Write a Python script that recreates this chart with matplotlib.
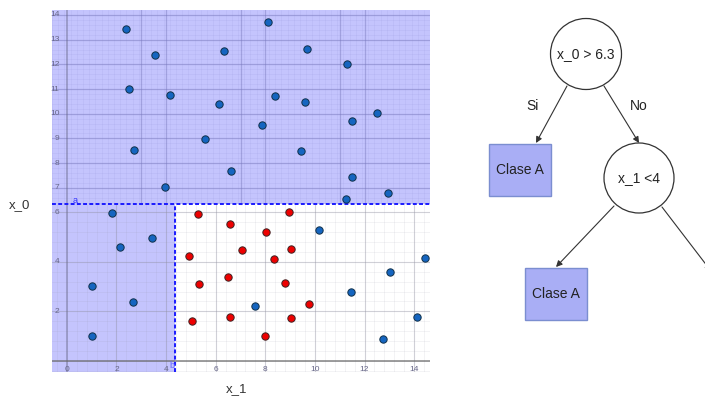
import numpy as np
import matplotlib
matplotlib.use('Agg')
from matplotlib import pyplot as plt
from matplotlib.patches import Circle, Rectangle, FancyArrowPatch

# data (x_1 horizontal, x_0 vertical)
blue_x1 = [2.40, 3.57, 6.33, 8.12, 9.68, 11.31, 2.50, 4.16, 6.13, 8.38, 9.60, 12.52,
           11.48, 7.87, 5.56, 2.72, 9.45, 6.63, 3.96, 11.50, 12.95, 11.25,
           1.82, 2.14, 3.44, 1.00, 2.65, 1.00, 7.57, 10.17, 14.45, 13.04, 11.47, 14.10, 12.73]
blue_x0 = [13.42, 12.39, 12.55, 13.71, 12.61, 12.01, 11.01, 10.74, 10.38, 10.72, 10.49, 10.04,
           9.70, 9.54, 8.98, 8.53, 8.48, 7.68, 7.04, 7.44, 6.80, 6.55,
           5.99, 4.62, 4.95, 3.01, 2.38, 1.01, 2.21, 5.28, 4.16, 3.59, 2.79, 1.76, 0.87]
red_x1 = [5.30, 8.97, 6.59, 8.03, 7.05, 9.04, 4.92, 8.35, 6.51, 5.33, 8.79, 9.77,
          5.03, 6.58, 9.02, 7.98]
red_x0 = [5.94, 6.02, 5.55, 5.20, 4.48, 4.52, 4.25, 4.13, 3.40, 3.11, 3.13, 2.31,
          1.62, 1.78, 1.74, 1.01]

split_x0 = 6.33
split_x1 = 4.35
xticks = [0, 2, 4, 6, 8, 10, 12, 14]
yticks_low = [2, 4, 6]
yticks_high = [7, 8, 9, 10, 11, 12, 13, 14]

plt.rcParams['font.family'] = ['Liberation Sans', 'DejaVu Sans']

shade = '#c4c4fd'
tick_col = '#666688'

fig = plt.figure(figsize=(7.05, 3.97), dpi=100)
ax = fig.add_axes([52/705, 25/397, 378/705, 362/397])
x_lo, x_hi = -0.6, 14.64
y_lo, y_hi = -0.46, 14.2
ax.set_xlim(x_lo, x_hi)
ax.set_ylim(y_lo, y_hi)

# shaded regions
ax.add_patch(Rectangle((x_lo, split_x0), x_hi - x_lo, y_hi - split_x0, fc=shade, ec='none', zorder=0))
ax.add_patch(Rectangle((x_lo, y_lo), split_x1 - x_lo, split_x0 - y_lo, fc=shade, ec='none', zorder=0))

# grid, lower part (major 2, minor 0.4)
for v in np.arange(-0.4, x_hi, 0.4):
    ax.plot([v, v], [y_lo, split_x0], color='#9090a0', lw=0.4, alpha=0.18, zorder=1)
for v in np.arange(-0.4, split_x0, 0.4):
    ax.plot([x_lo, x_hi], [v, v], color='#9090a0', lw=0.4, alpha=0.18, zorder=1)
for v in xticks[1:]:
    ax.plot([v, v], [y_lo, split_x0], color='#9090a0', lw=0.8, alpha=0.35, zorder=1)
for v in [2, 4, 6]:
    ax.plot([x_lo, x_hi], [v, v], color='#9090a0', lw=0.8, alpha=0.35, zorder=1)

# grid, upper part (pasted picture with its own spacing)
for v in np.arange(6.4, y_hi, 0.2):
    ax.plot([x_lo, x_hi], [v, v], color='#8888cc', lw=0.4, alpha=0.18, zorder=1)
for v in np.arange(-0.6, x_hi, 0.25):
    ax.plot([v, v], [split_x0, y_hi], color='#8888cc', lw=0.4, alpha=0.18, zorder=1)
for v in yticks_high:
    ax.plot([x_lo, x_hi], [v, v], color='#7777bb', lw=0.9, alpha=0.45, zorder=1)
for v in list(np.arange(3, 15, 4)) + list(np.arange(4, 15, 4)):
    ax.plot([v, v], [split_x0, y_hi], color='#7777bb', lw=0.9, alpha=0.45, zorder=1)

# axes lines
ax.plot([0, 0], [y_lo, y_hi], color='#666688', lw=1.2, alpha=0.5, zorder=2)
ax.plot([x_lo, x_hi], [0, 0], color='#666666', lw=1.2, alpha=0.75, zorder=2)

# split lines
ax.plot([x_lo, x_hi], [split_x0, split_x0], color='#1a1aff', lw=1.4, ls=(0, (2, 1.2)), zorder=3)
ax.plot([split_x1, split_x1], [y_lo, split_x0], color='#1a1aff', lw=1.4, ls=(0, (2, 1.2)), zorder=3)
ax.text(0.22, split_x0 + 0.05, 'a', color='#3333ff', fontsize=6.5, zorder=4)
ax.text(split_x1 - 0.02, -0.28, 'b', color='#6666ff', fontsize=6.5, ha='right', zorder=4)

# tick labels as text
for t in xticks:
    ax.text(t, -0.2, str(t), fontsize=6, color=tick_col, ha='center', va='top', zorder=4)
for t in yticks_low:
    ax.text(-0.3, t, str(t), fontsize=6, color=tick_col, ha='right', va='center', zorder=4)
for t in yticks_high:
    ax.text(-0.3, t, str(t), fontsize=6, color=tick_col, ha='right', va='center', zorder=4)

ax.scatter(blue_x1, blue_x0, s=28, c='#1565c0', edgecolors='#10304a', linewidths=0.7, zorder=5)
ax.scatter(red_x1, red_x0, s=28, c='#ee0000', edgecolors='#402020', linewidths=0.7, zorder=5)

ax.set_xticks([])
ax.set_yticks([])
for s in ax.spines.values():
    s.set_visible(False)

fig.text(237/705, 1 - 389/397, 'x_1', fontsize=9.5, color='#333333', ha='center', va='center')
fig.text(20/705, 1 - 205/397, 'x_0', fontsize=9.5, color='#333333', ha='center', va='center')

# tree diagram, in pixel coordinates
tr = fig.add_axes([0, 0, 1, 1])
tr.set_xlim(0, 705)
tr.set_ylim(397, 0)
tr.axis('off')
tr.patch.set_alpha(0)

tr.add_patch(Circle((586, 54), 35.5, fc='white', ec='#333333', lw=0.9))
tr.text(586, 54, 'x_0 > 6.3', fontsize=10, ha='center', va='center', color='#222222')
tr.add_patch(Circle((639, 178), 35, fc='white', ec='#333333', lw=0.9))
tr.text(639, 178, 'x_1 <4', fontsize=10, ha='center', va='center', color='#222222')

box_fc = '#a9aef5'
box_ec = '#7b8ed0'
tr.add_patch(Rectangle((489, 143.5), 62, 52.5, fc=box_fc, ec=box_ec, lw=1))
tr.text(520, 169.5, 'Clase A', fontsize=10, ha='center', va='center', color='#222222')
tr.add_patch(Rectangle((524.5, 267.5), 62, 52.5, fc=box_fc, ec=box_ec, lw=1))
tr.text(555.5, 293.5, 'Clase A', fontsize=10, ha='center', va='center', color='#222222')

for (x1, y1, x2, y2) in [(567, 86, 536, 143), (604, 86, 639, 143),
                         (614, 206, 556, 267), (662, 207, 711, 271)]:
    tr.add_patch(FancyArrowPatch((x1, y1), (x2, y2), arrowstyle='-|>', mutation_scale=9,
                                 color='#333333', lw=0.8, shrinkA=0, shrinkB=0))

tr.text(533, 106, 'Si', fontsize=10, ha='center', va='center', color='#222222')
tr.text(639, 106, 'No', fontsize=10, ha='center', va='center', color='#222222')

fig.savefig('out.png', dpi=100)
